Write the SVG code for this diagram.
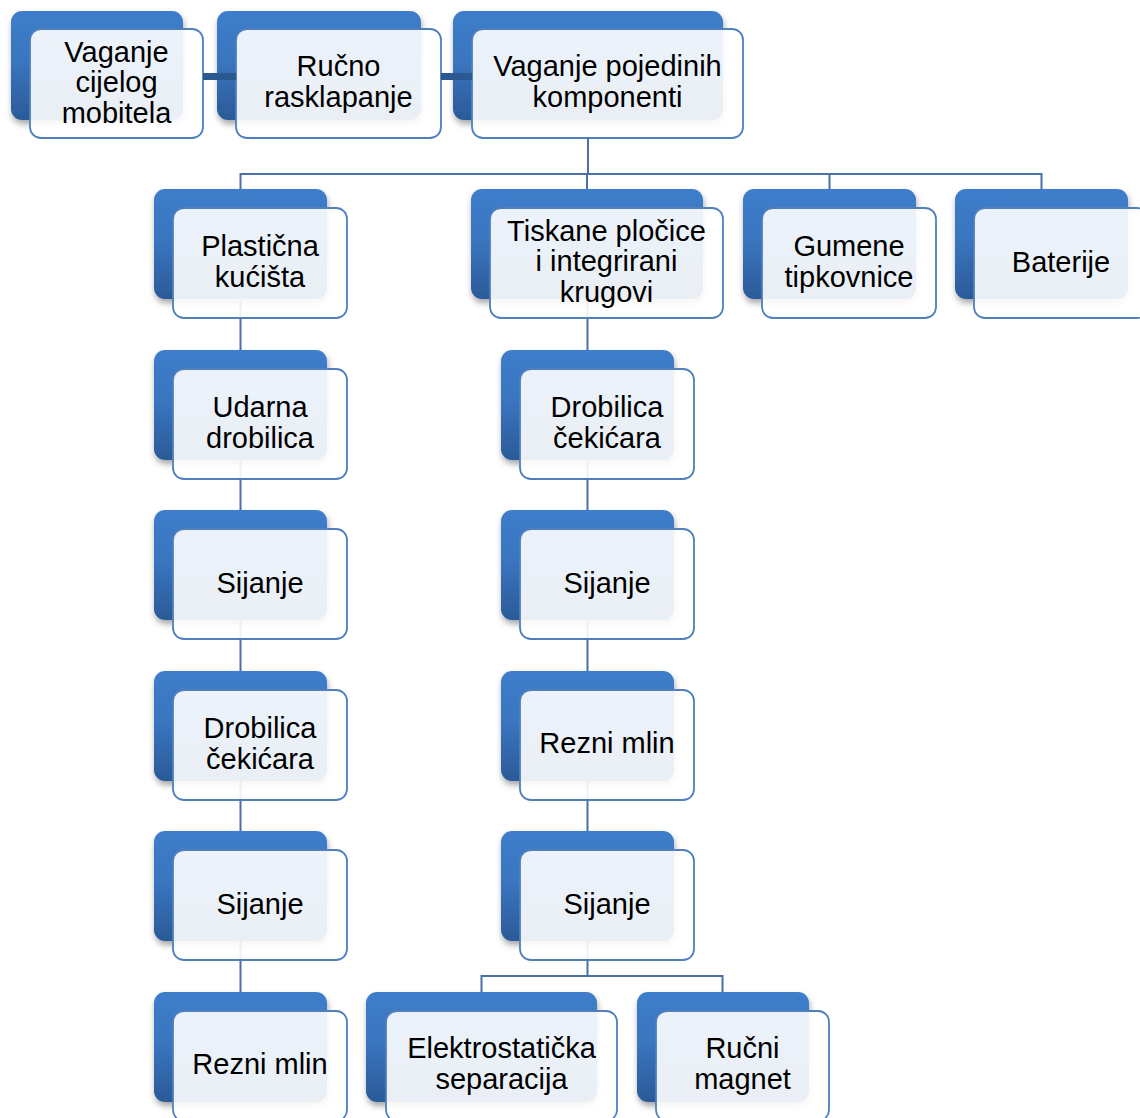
<svg xmlns="http://www.w3.org/2000/svg" width="1140" height="1118" viewBox="0 0 1140 1118">
<defs>
<linearGradient id="bg" x1="0" y1="0" x2="0" y2="1">
<stop offset="0" stop-color="#3d7dca"/>
<stop offset="0.45" stop-color="#3a76c0"/>
<stop offset="1" stop-color="#2b5a98"/>
</linearGradient>
<filter id="sh" x="-10%" y="-10%" width="125%" height="130%">
<feDropShadow dx="1" dy="4" stdDeviation="3" flood-color="#000" flood-opacity="0.35"/>
</filter>
</defs>
<style>
.back{fill:url(#bg);filter:url(#sh)}
.front{fill:#fff;fill-opacity:0.9;stroke:#4f7fbd;stroke-width:1.8}
.t{font-family:"Liberation Sans",Arial,sans-serif;font-size:29px;fill:#000;text-anchor:middle}
.ln{stroke:#4a70a6;stroke-width:2;fill:none}
.bar{fill:#2c5891}
</style>
<rect width="1140" height="1118" fill="#fff"/>

<g id="n1">
<rect class="back" x="11" y="11" width="172" height="109" rx="11"/>
<rect class="front" x="30" y="29" width="173" height="109" rx="11"/>
<text class="t" x="116.5" y="61.5">Vaganje</text>
<text class="t" x="116.5" y="92">cijelog</text>
<text class="t" x="116.5" y="122.5">mobitela</text>
</g>
<g id="n2">
<rect class="back" x="217" y="11" width="204" height="109" rx="11"/>
<rect class="front" x="236" y="29" width="205" height="109" rx="11"/>
<text class="t" x="338.5" y="76">Ručno</text>
<text class="t" x="338.5" y="106.5">rasklapanje</text>
</g>
<g id="n3">
<rect class="back" x="453" y="11" width="270" height="109" rx="11"/>
<rect class="front" x="472" y="29" width="271" height="109" rx="11"/>
<text class="t" x="607.5" y="76">Vaganje pojedinih</text>
<text class="t" x="607.5" y="106.5">komponenti</text>
</g>

<g id="connectors">
<rect class="bar" x="203" y="73" width="33" height="7"/>
<rect class="bar" x="441" y="73" width="31" height="7"/>
<path class="ln" d="M588 138V174M240.5 189V174H1041.5V189M587 174V189M829.5 174V189"/>
<path class="ln" d="M240.5 299V992"/>
<path class="ln" d="M587.5 299V976M481.5 992V976H722.5V992"/>
</g>

<g id="n4">
<rect class="back" x="154" y="189" width="173" height="110" rx="11"/>
<rect class="front" x="173" y="208" width="174" height="110" rx="11"/>
<text class="t" x="260" y="256">Plastična</text>
<text class="t" x="260" y="286.5">kućišta</text>
</g>
<g id="n5">
<rect class="back" x="471" y="189" width="232" height="110" rx="11"/>
<rect class="front" x="490" y="208" width="233" height="110" rx="11"/>
<text class="t" x="606.5" y="240.5">Tiskane pločice</text>
<text class="t" x="606.5" y="271">i integrirani</text>
<text class="t" x="606.5" y="301.5">krugovi</text>
</g>
<g id="n6">
<rect class="back" x="743" y="189" width="173" height="110" rx="11"/>
<rect class="front" x="762" y="208" width="174" height="110" rx="11"/>
<text class="t" x="849" y="256">Gumene</text>
<text class="t" x="849" y="286.5">tipkovnice</text>
</g>
<g id="n7">
<rect class="back" x="955" y="189" width="173" height="110" rx="11"/>
<rect class="front" x="974" y="208" width="174" height="110" rx="11"/>
<text class="t" x="1061" y="271.5">Baterije</text>
</g>

<g id="n8">
<rect class="back" x="154" y="350" width="173" height="110" rx="11"/>
<rect class="front" x="173" y="369" width="174" height="110" rx="11"/>
<text class="t" x="260" y="417">Udarna</text>
<text class="t" x="260" y="447.5">drobilica</text>
</g>
<g id="n9">
<rect class="back" x="154" y="510" width="173" height="110" rx="11"/>
<rect class="front" x="173" y="529" width="174" height="110" rx="11"/>
<text class="t" x="260" y="592.5">Sijanje</text>
</g>
<g id="n10">
<rect class="back" x="154" y="671" width="173" height="110" rx="11"/>
<rect class="front" x="173" y="690" width="174" height="110" rx="11"/>
<text class="t" x="260" y="738">Drobilica</text>
<text class="t" x="260" y="768.5">čekićara</text>
</g>
<g id="n11">
<rect class="back" x="154" y="831" width="173" height="110" rx="11"/>
<rect class="front" x="173" y="850" width="174" height="110" rx="11"/>
<text class="t" x="260" y="913.5">Sijanje</text>
</g>
<g id="n12">
<rect class="back" x="154" y="992" width="173" height="110" rx="11"/>
<rect class="front" x="173" y="1011" width="174" height="110" rx="11"/>
<text class="t" x="260" y="1073.5">Rezni mlin</text>
</g>

<g id="n13">
<rect class="back" x="501" y="350" width="173" height="110" rx="11"/>
<rect class="front" x="520" y="369" width="174" height="110" rx="11"/>
<text class="t" x="607" y="417">Drobilica</text>
<text class="t" x="607" y="447.5">čekićara</text>
</g>
<g id="n14">
<rect class="back" x="501" y="510" width="173" height="110" rx="11"/>
<rect class="front" x="520" y="529" width="174" height="110" rx="11"/>
<text class="t" x="607" y="592.5">Sijanje</text>
</g>
<g id="n15">
<rect class="back" x="501" y="671" width="173" height="110" rx="11"/>
<rect class="front" x="520" y="690" width="174" height="110" rx="11"/>
<text class="t" x="607" y="752.5">Rezni mlin</text>
</g>
<g id="n16">
<rect class="back" x="501" y="831" width="173" height="110" rx="11"/>
<rect class="front" x="520" y="850" width="174" height="110" rx="11"/>
<text class="t" x="607" y="913.5">Sijanje</text>
</g>

<g id="n17">
<rect class="back" x="366" y="992" width="231" height="110" rx="11"/>
<rect class="front" x="386" y="1011" width="231" height="110" rx="11"/>
<text class="t" x="501.5" y="1058">Elektrostatička</text>
<text class="t" x="501.5" y="1088.5">separacija</text>
</g>
<g id="n18">
<rect class="back" x="637" y="992" width="172" height="110" rx="11"/>
<rect class="front" x="656" y="1011" width="173" height="110" rx="11"/>
<text class="t" x="742.5" y="1058">Ručni</text>
<text class="t" x="742.5" y="1088.5">magnet</text>
</g>
</svg>
